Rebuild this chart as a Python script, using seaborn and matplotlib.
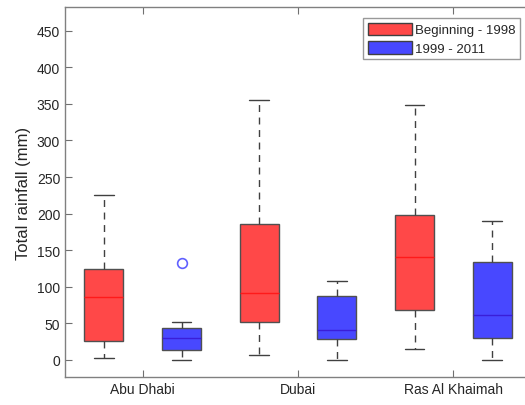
import matplotlib
matplotlib.use("Agg")
import matplotlib.pyplot as plt
from matplotlib.patches import Patch
import seaborn as sns
import pandas as pd

cities = ["Abu Dhabi", "Dubai", "Ras Al Khaimah"]
periods = ["Beginning - 1998", "1999 - 2011"]

# five-number summaries (per city)
early_lo = [2.7, 6.8, 15.5]
early_q1 = [26.4, 52.4, 68.8]
early_med = [86.0, 92.0, 140.5]
early_q3 = [124.0, 186.0, 198.0]
early_hi = [226.0, 354.7, 348.0]
early_out = [[], [], []]

late_lo = [0.0, 0.0, 0.0]
late_q1 = [14.0, 28.3, 30.0]
late_med = [30.5, 40.6, 62.0]
late_q3 = [43.3, 87.0, 134.0]
late_hi = [51.5, 108.5, 190.5]
late_out = [[132.7], [], []]

yticks = [0, 50, 100, 150, 200, 250, 300, 350, 400, 450]

rows = []
def add(period, lo, q1, med, q3, hi, out):
    for i, c in enumerate(cities):
        extra = out[i] if out[i] else [hi[i]]
        vals = [lo[i], q1[i], q1[i], med[i], med[i], q3[i], q3[i], hi[i]] + extra
        for v in vals:
            rows.append({"city": c, "period": period, "rain": v})

add(periods[0], early_lo, early_q1, early_med, early_q3, early_hi, early_out)
add(periods[1], late_lo, late_q1, late_med, late_q3, late_hi, late_out)
df = pd.DataFrame(rows)

sns.set_style("white")
plt.rcParams["font.family"] = ["Liberation Sans", "DejaVu Sans"]

fig = plt.figure(figsize=(5.25, 4.06), dpi=100)
ax = fig.add_axes([65 / 525, 1 - 377.7 / 406, (531 - 65) / 525, (377.7 - 8.3) / 406])

red = "#FF4848"
blue = "#4848FF"
sns.boxplot(data=df, x="city", y="rain", hue="period", order=cities, hue_order=periods,
            palette={periods[0]: red, periods[1]: blue}, saturation=1, width=1.0, gap=0.5,
            linecolor="#505050", linewidth=1.0, whis=1.5,
            whiskerprops=dict(linestyle=(0, (5, 4)), color="#404040"),
            capprops=dict(color="#404040"),
            flierprops=dict(marker="o", markerfacecolor="none", markeredgecolor="#6060FF",
                            markersize=7, markeredgewidth=1.2),
            legend=False, ax=ax)

med_colors = ["#FF1A1A", "#3A1ED8"]
for cont, mc in zip(ax.containers, med_colors):
    try:
        for m in cont.medians:
            m.set_color(mc)
    except Exception:
        pass

ax.set_xlim(-0.5, 2.5)
ax.set_ylim(-23, 482)
ax.set_yticks(yticks)
ax.set_xlabel("")
ax.set_ylabel("Total rainfall (mm)", fontsize=12, color="#262626")
ax.tick_params(axis="both", direction="in", length=5, color="#707070", labelsize=10,
               labelcolor="#262626", top=True, left=True, bottom=True)
for s in ax.spines.values():
    s.set_color("#808080")
    s.set_linewidth(1.0)

handles = [Patch(facecolor=red, edgecolor="#404040"), Patch(facecolor=blue, edgecolor="#404040")]
leg = fig.legend(handles, periods, loc="upper right", bbox_to_anchor=(520 / 525, 1 - 19 / 406),
                 bbox_transform=fig.transFigure, fontsize=9.5, frameon=True, fancybox=False,
                 handlelength=3.3, handleheight=1.1, handletextpad=0.25, labelspacing=0.35,
                 borderpad=0.35, borderaxespad=0)
leg.get_frame().set_edgecolor("#808080")
leg.get_frame().set_linewidth(1.0)

fig.savefig("out.png", dpi=100)
